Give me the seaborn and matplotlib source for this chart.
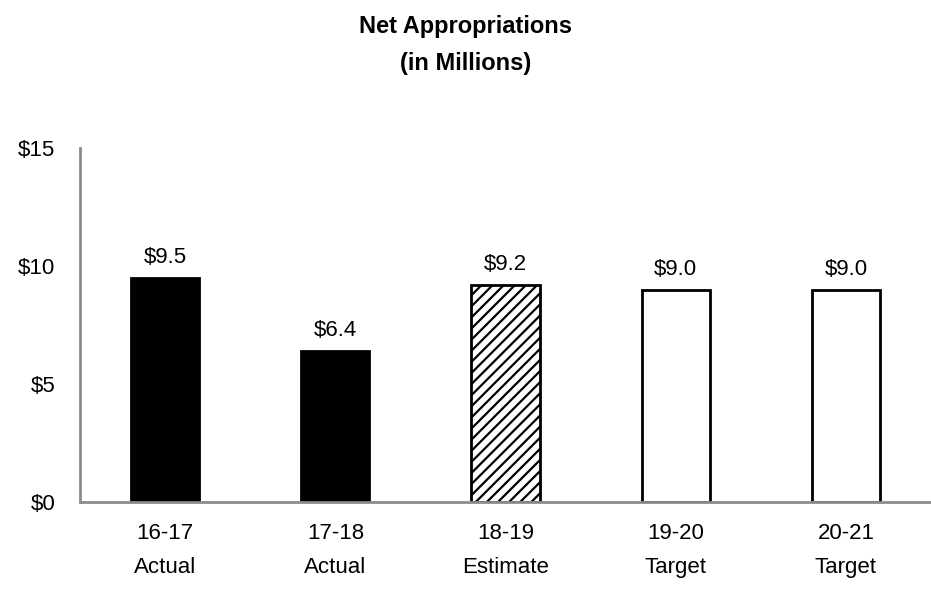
import numpy as np
import pandas as pd
import matplotlib
matplotlib.use("Agg")
import matplotlib.pyplot as plt
import seaborn as sns

# Datos
years = ["16-17", "17-18", "18-19", "19-20", "20-21"]
kinds = ["Actual", "Actual", "Estimate", "Target", "Target"]
values = [9.5, 6.4, 9.2, 9.0, 9.0]

labels = [f"{y}\n{k}" for y, k in zip(years, kinds)]
df = pd.DataFrame({"label": labels, "value": values})

sns.set_style("white")
plt.rcParams["font.family"] = ["Liberation Sans", "DejaVu Sans"]
plt.rcParams["text.color"] = "black"
plt.rcParams["xtick.color"] = "black"
plt.rcParams["ytick.color"] = "black"
plt.rcParams["hatch.linewidth"] = 1.6

fig = plt.figure(figsize=(9.31, 5.98), dpi=100)
ax = fig.add_axes([0.086, 0.1605, 0.914, 0.592])

fills = ["black", "black", "white", "white", "white"]
sns.barplot(data=df, x="label", y="value", hue="label", palette=fills,
            legend=False, width=0.4, ax=ax, saturation=1)

for i, bar in enumerate(ax.patches):
    bar.set_edgecolor("black")
    bar.set_linewidth(2)
    if kinds[i] == "Estimate":
        bar.set_hatch("///")

for i, v in enumerate(values):
    ax.annotate(f"${v:.1f}", (i, v), xytext=(0, 7), textcoords="offset points",
                ha="center", va="bottom", fontsize=16)

ax.set_ylim(0, 15)
ax.set_xlim(-0.5, 4.5)
ax.set_yticks([0, 5, 10, 15])
ax.set_yticklabels(["$0", "$5", "$10", "$15"], fontsize=16)
ax.set_xticks(range(len(labels)))
ax.set_xticklabels(labels, fontsize=16, linespacing=1.8)
ax.tick_params(axis="x", length=0, pad=15)
ax.tick_params(axis="y", length=0, pad=18)
ax.set_xlabel("")
ax.set_ylabel("")

sns.despine(ax=ax, top=True, right=True)
for s in ["left", "bottom"]:
    ax.spines[s].set_color("#8c8c8c")
    ax.spines[s].set_linewidth(2)

fig.suptitle("Net Appropriations\n(in Millions)", fontsize=17, fontweight="bold",
             y=0.975, linespacing=1.8)

fig.savefig("out.png", dpi=100)
